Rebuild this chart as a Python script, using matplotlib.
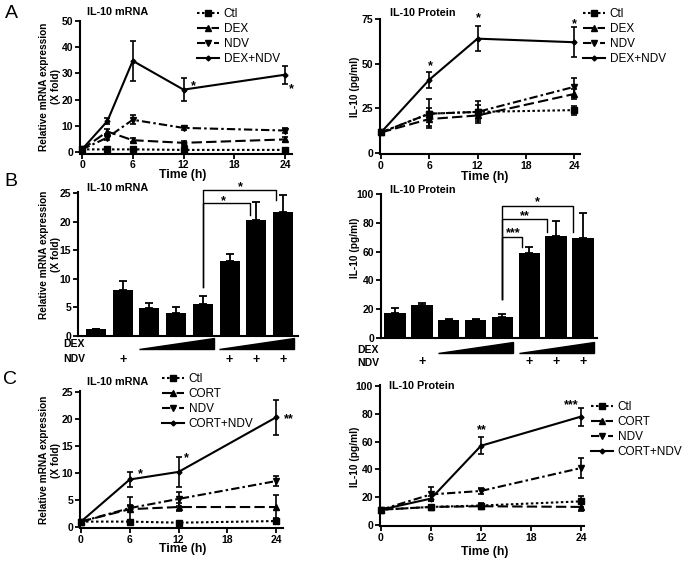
import numpy as np
import matplotlib
matplotlib.use("Agg")
import matplotlib.pyplot as plt
from matplotlib.lines import Line2D
from matplotlib.patches import Polygon
import matplotlib.transforms as mtrans

# ---- data ----
t_a_mrna = [0, 3, 6, 12, 24]
a_mrna_ctl = [1, 1, 1, 0.8, 0.8]
a_mrna_ctl_err = [0.3, 0.3, 0.3, 0.3, 0.3]
a_mrna_dex = [1, 7.8, 4.5, 3.5, 4.8]
a_mrna_dex_err = [0.3, 1.0, 0.8, 0.6, 1.0]
a_mrna_ndv = [1, 5.5, 12.3, 9.2, 8.2]
a_mrna_ndv_err = [0.3, 1.0, 1.8, 0.8, 0.8]
a_mrna_combo = [1, 11.8, 34.8, 23.8, 29.5]
a_mrna_combo_err = [0.3, 1.2, 7.7, 4.5, 3.5]

t_a_prot = [0, 6, 12, 24]
a_prot_ctl = [11.5, 22, 23, 24]
a_prot_ctl_err = [1, 3, 4, 2.5]
a_prot_dex = [11.5, 19, 21, 33]
a_prot_dex_err = [1, 4, 3, 3]
a_prot_ndv = [11.5, 22, 23, 37]
a_prot_ndv_err = [1, 8, 6, 5]
a_prot_combo = [11.5, 41, 64, 62]
a_prot_combo_err = [1, 4.5, 7, 8.5]

b_mrna = [1.2, 8.0, 4.9, 4.1, 5.6, 13.1, 20.2, 21.7]
b_mrna_err = [0, 1.6, 0.9, 1.0, 1.4, 1.2, 3.2, 2.9]
b_prot = [17.1, 22.9, 12.8, 12.8, 14.8, 59.3, 71.0, 69.2]
b_prot_err = [3.9, 1.6, 0.5, 0.3, 1.6, 3.7, 10.2, 17.4]
ndv_plus = [2, 6, 7, 8]

t_c = [0, 6, 12, 24]
c_mrna_ctl = [1, 1, 0.8, 1.1]
c_mrna_ctl_err = [0.2, 0.2, 0.2, 0.5]
c_mrna_cort = [1, 3.3, 3.7, 3.7]
c_mrna_cort_err = [0.2, 2.2, 0.8, 2.2]
c_mrna_ndv = [1, 3.5, 5.2, 8.5]
c_mrna_ndv_err = [0.2, 0.6, 1.3, 0.9]
c_mrna_combo = [1, 8.8, 10.2, 20.3]
c_mrna_combo_err = [0.2, 1.4, 2.7, 3.2]

c_prot_ctl = [11, 13, 14, 17]
c_prot_ctl_err = [1, 1.5, 1.5, 4]
c_prot_cort = [11, 13, 13.5, 13]
c_prot_cort_err = [1, 1, 1, 3]
c_prot_ndv = [11, 22, 24.5, 41]
c_prot_ndv_err = [1, 5, 2, 7]
c_prot_combo = [11, 19, 57, 78]
c_prot_combo_err = [1, 2, 6, 6.5]

plt.rcParams['font.family'] = ['Liberation Sans', 'DejaVu Sans']
plt.rcParams['font.weight'] = 'bold'
plt.rcParams['axes.linewidth'] = 1.5

W, H = 683, 562
fig = plt.figure(figsize=(W / 100, H / 100), dpi=100)

STY = [
    dict(ls=(0, (1.2, 1.2)), marker='s', ms=4.5),
    dict(ls=(0, (5, 2)), marker='^', ms=4.5),
    dict(ls=(0, (4, 1.5, 1.2, 1.5)), marker='v', ms=4.5),
    dict(ls='-', marker='D', ms=2.5),
]


def ftext(x, y, s, **kw):
    return fig.text(x / W, 1 - y / H, s, **kw)


def make_ax(box, xmap, ymap):
    l, t, r, b = box
    ax = fig.add_axes([l / W, 1 - b / H, (r - l) / W, (b - t) / H])
    (p0, v0), (p1, v1) = xmap
    s = (v1 - v0) / (p1 - p0)
    ax.set_xlim(v0 + (l - p0) * s, v0 + (r - p0) * s)
    (q0, w0), (q1, w1) = ymap
    s = (w1 - w0) / (q1 - q0)
    ax.set_ylim(w0 + (b - q0) * s, w0 + (t - q0) * s)
    for sp in ('top', 'right'):
        ax.spines[sp].set_visible(False)
    ax.tick_params(direction='out', length=3.5, width=1.3, labelsize=7.5, pad=1.5)
    return ax


def lines(ax, t, series, errs):
    for y, e, st in zip(series, errs, STY):
        ax.errorbar(t, y, yerr=e, color='black', lw=1.5, elinewidth=1.2,
                    capsize=2.5, capthick=1.2, clip_on=False, **st)
    ax.set_xticks([0, 6, 12, 18, 24])


def legend(x, y, labels):
    hs = [Line2D([], [], color='black', lw=1.5, **st) for st in STY]
    fig.legend(hs, labels, loc='upper left', bbox_to_anchor=(x / W, 1 - y / H),
               frameon=False, handlelength=1.9, handletextpad=0.35,
               labelspacing=0.25, borderpad=0, borderaxespad=0,
               prop={'weight': 'normal', 'size': 8.5})


def star(ax, x, y, s):
    ax.text(x, y, s, ha='center', va='center', fontsize=9, fontweight='bold')


# ---- A left ----
ax = make_ax((80, 21, 292, 153.5), ((82, 0), (285, 24)), ((152, 0), (21, 50)))
lines(ax, t_a_mrna, [a_mrna_ctl, a_mrna_dex, a_mrna_ndv, a_mrna_combo],
      [a_mrna_ctl_err, a_mrna_dex_err, a_mrna_ndv_err, a_mrna_combo_err])
ax.set_yticks([0, 10, 20, 30, 40, 50])
star(ax, 13.2, 25.0, '*')
star(ax, 24.8, 24.0, '*')
legend(197, 8, ['Ctl', 'DEX', 'NDV', 'DEX+NDV'])

# ---- A right ----
ax = make_ax((380, 19, 580, 154), ((381, 0), (574, 24)), ((153, 0), (19, 75)))
lines(ax, t_a_prot, [a_prot_ctl, a_prot_dex, a_prot_ndv, a_prot_combo],
      [a_prot_ctl_err, a_prot_dex_err, a_prot_ndv_err, a_prot_combo_err])
ax.set_yticks([0, 25, 50, 75])
star(ax, 6.2, 48.5, '*')
star(ax, 12.1, 75.5, '*')
star(ax, 24.1, 72.0, '*')
legend(583, 8, ['Ctl', 'DEX', 'NDV', 'DEX+NDV'])


# ---- B bars ----
def bars(ax, vals, errs, width, brackets, wedge_y, plus_y):
    x = np.arange(1, len(vals) + 1)
    ax.bar(x, vals, width=width, color='black', zorder=2)
    ax.errorbar(x, vals, yerr=[np.zeros(len(errs)), errs], fmt='none',
                ecolor='black', elinewidth=1.3, capsize=3, capthick=1.3)
    ax.set_xticks([])
    tr = mtrans.blended_transform_factory(ax.transData, ax.transAxes)
    for x0, x1 in [(2.6, 5.4), (5.6, 8.4)]:
        ax.add_patch(Polygon([(x0, wedge_y[0]), (x1, wedge_y[0]), (x1, wedge_y[1])],
                             closed=True, color='black', transform=tr, clip_on=False))
    for xp in ndv_plus:
        ax.text(xp, plus_y, '+', transform=tr, ha='center', va='center',
                fontsize=9, fontweight='bold')
    for (xl, yl, xr, yr, yh, s, sx, sy) in brackets:
        ax.plot([xl, xl, xr, xr], [yl, yh, yh, yr], color='black', lw=1.0, clip_on=False)
        star(ax, sx, sy, s)


ax = make_ax((78, 192, 298, 336), ((96, 1), (283, 8)), ((336, 0), (193, 25)))
bars(ax, b_mrna, b_mrna_err, 0.75,
     [(5, 8.6, 6.75, 21.2, 23.3, '*', 5.75, 23.6),
      (5, 8.6, 7.75, 23.8, 25.5, '*', 6.4, 26.1)],
     (-0.09, -0.014), -0.165)
ax.set_yticks([0, 5, 10, 15, 20, 25])
ftext(63, 344, 'DEX', fontsize=7.5, va='center')
ftext(63, 359, 'NDV', fontsize=7.5, va='center')

ax = make_ax((381, 194, 597, 338), ((395, 1), (583, 8)), ((338, 0), (194, 100)))
bars(ax, b_prot, b_prot_err, 0.8,
     [(5, 27, 5.73, 63.4, 70.3, '***', 5.4, 72.8),
      (5, 27, 6.66, 73.8, 82.4, '**', 5.85, 84.8),
      (5, 27, 7.63, 73.8, 91.7, '*', 6.3, 94.5)],
     (-0.104, -0.028), -0.17)
ax.set_yticks([0, 20, 40, 60, 80, 100])
ftext(357, 350, 'DEX', fontsize=7.5, va='center')
ftext(357, 363, 'NDV', fontsize=7.5, va='center')

# ---- C left ----
ax = make_ax((80, 391, 283, 528), ((81, 0), (276, 24)), ((527, 0), (392, 25)))
lines(ax, t_c, [c_mrna_ctl, c_mrna_cort, c_mrna_ndv, c_mrna_combo],
      [c_mrna_ctl_err, c_mrna_cort_err, c_mrna_ndv_err, c_mrna_combo_err])
ax.set_yticks([0, 5, 10, 15, 20, 25])
star(ax, 7.3, 9.7, '*')
star(ax, 13.0, 12.8, '*')
star(ax, 25.6, 19.9, '**')
legend(162, 373, ['Ctl', 'CORT', 'NDV', 'CORT+NDV'])

# ---- C right ----
ax = make_ax((380, 385, 584, 526), ((381, 0), (581, 24)), ((525, 0), (386, 100)))
lines(ax, t_c, [c_prot_ctl, c_prot_cort, c_prot_ndv, c_prot_combo],
      [c_prot_ctl_err, c_prot_cort_err, c_prot_ndv_err, c_prot_combo_err])
ax.set_yticks([0, 20, 40, 60, 80, 100])
star(ax, 12.1, 68.5, '**')
star(ax, 22.8, 86.5, '***')
legend(591, 401, ['Ctl', 'CORT', 'NDV', 'CORT+NDV'])

# ---- texts ----
for x, y, s in [(87, 12, 'IL-10 mRNA'), (390, 13, 'IL-10 Protein'),
                (87, 188, 'IL-10 mRNA'), (390, 190, 'IL-10 Protein'),
                (87, 382, 'IL-10 mRNA'), (389, 386, 'IL-10 Protein')]:
    ftext(x, y, s, fontsize=7.8, va='center')

ylab = 'Relative mRNA expression\n(X fold)'
for x, y, s in [(50, 87, ylab), (355, 87, 'IL-10 (pg/ml)'),
                (50, 255, ylab), (355, 248, 'IL-10 (pg/ml)'),
                (50, 460, ylab), (355, 457, 'IL-10 (pg/ml)')]:
    ftext(x, y, s, fontsize=7.3, rotation=90, ha='center', va='center',
          linespacing=1.2)

for x, y in [(183, 175), (485, 177), (183, 549), (485, 552)]:
    ftext(x, y, 'Time (h)', fontsize=8.8, ha='center', va='center')

for x, y, s in [(11, 14, 'A'), (11, 181, 'B'), (10, 380, 'C')]:
    ftext(x, y, s, fontsize=14, fontweight='normal', ha='center', va='center')

fig.savefig('out.png', dpi=100, facecolor='white')
